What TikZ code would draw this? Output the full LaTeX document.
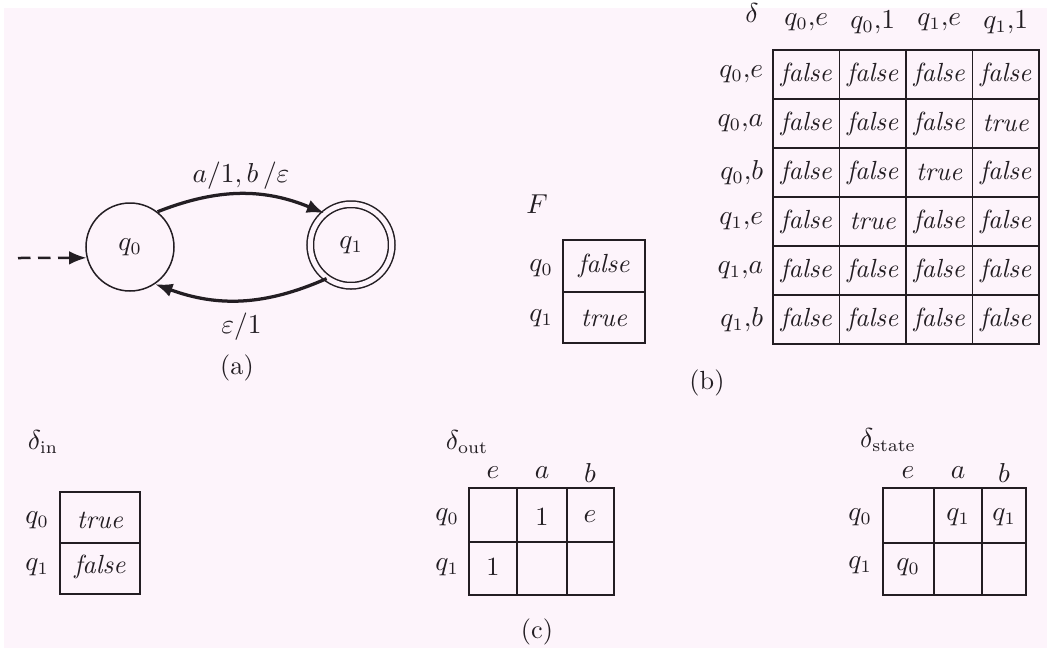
\documentclass[tikz,border=0pt]{standalone}
\usepackage{amsmath,amssymb}
\usetikzlibrary{arrows.meta,positioning,calc}
\definecolor{paper}{RGB}{253,244,251}
\definecolor{ink}{RGB}{35,30,35}
\newcommand{\tv}[1]{\textit{#1}}

\begin{document}
\begin{tikzpicture}[x=0.4pt,y=-0.4pt,font=\fontsize{10.5}{12}\selectfont,text=ink,
  state/.style={draw=ink,circle,line width=0.6pt,minimum size=35.2pt,inner sep=0pt},
  accept/.style={state,double=paper,double distance=2pt,minimum size=32.6pt},
  trans/.style={draw=ink,line width=1.3pt,-{Latex[length=7pt,width=5.5pt]}},
  tab/.style={draw=ink,line width=0.7pt}]
  \useasboundingbox[fill=white] (0,0) rectangle (1047,648);
  \fill[paper] (4,8) rectangle (1047,648);

  % (a) automaton
  \node[state] (q0) at (130,247) {$q_0$};
  \node[accept] (q1) at (351,245) {$q_1$};
  \coordinate (start) at (18,258);
  \draw[trans,dashed,dash pattern=on 5pt off 3pt,line width=1pt] (start) -- (q0.194);
  \draw[trans] (q0.52) to[bend left=22] node[above=-2pt] (lab-ab) {$a/1{,}\,b\,/\varepsilon$} (q1.130);
  \draw[trans] (q1.234) to[bend left=22] node[below=1pt] (lab-e) {$\varepsilon/1$} (q0.304);
  \node (cap-a) at (237,368) {(a)};

  % (b) F and delta
  \node (F) at (537,204) {$F$};
  \draw[tab] (563,240) rectangle (645,343) (563,292) -- (645,292);
  \node (F-q0) at (541,268) {$q_0$};
  \node (F-q1) at (541,318) {$q_1$};
  \node (F-0) at (604,266) {\tv{false}};
  \node (F-1) at (604,318) {\tv{true}};

  \node (d) at (752,13) {$\delta$};
  \draw[tab] (773,50) rectangle (1039,344);
  \foreach \x in {839.5,906,972.5} \draw[tab] (\x,50) -- (\x,344);
  \foreach \y in {99,148,197,246,295} \draw[tab] (773,\y) -- (1039,\y);
  \foreach \h [count=\c] in {{q_0{,}e},{q_0{,}1},{q_1{,}e},{q_1{,}1}}
    \node (dh-\c) at ({773+66.5*\c-33.25},22) {$\h$};
  \foreach \h [count=\r] in {{q_0{,}e},{q_0{,}a},{q_0{,}b},{q_1{,}e},{q_1{,}a},{q_1{,}b}}
    \node[anchor=east] (dr-\r) at (772,{25.5+49*\r}) {$\h$};
  \foreach \row [count=\r] in {{false,false,false,false},{false,false,false,true},
      {false,false,true,false},{false,true,false,false},
      {false,false,false,false},{false,false,false,false}}
    \foreach \v [count=\c] in \row
      \node (d-\r-\c) at ({773+66.5*\c-33.25},{25.5+49*\r}) {\tv{\v}};
  \node (cap-b) at (707,383) {(b)};

  % (c) delta_in
  \node (din) at (43,442) {$\delta_{\mathrm{in}}$};
  \draw[tab] (60,492) rectangle (140,594) (60,543) -- (140,543);
  \node (din-q0) at (37,520) {$q_0$};
  \node (din-q1) at (37,567) {$q_1$};
  \node (din-0) at (100,520) {\tv{true}};
  \node (din-1) at (100,567) {\tv{false}};

  % (c) delta_out
  \node (dout) at (467,442) {$\delta_{\mathrm{out}}$};
  \draw[tab] (469,488) rectangle (614,595) (469,542) -- (614,542);
  \draw[tab] (517,488) -- (517,595) (567,488) -- (567,595);
  \node (dout-e) at (493,473) {$e$};
  \node (dout-a) at (542,473) {$a$};
  \node (dout-b) at (590,473) {$b$};
  \node (dout-q0) at (447,517) {$q_0$};
  \node (dout-q1) at (447,567) {$q_1$};
  \node (dout-0a) at (542,517) {1};
  \node (dout-0b) at (590,517) {$e$};
  \node (dout-1e) at (493,567) {1};

  % (c) delta_state
  \node (dst) at (888,440) {$\delta_{\mathrm{state}}$};
  \draw[tab] (883,488) rectangle (1026,595) (883,543) -- (1026,543);
  \draw[tab] (934,488) -- (934,595) (982,488) -- (982,595);
  \node (dst-e) at (908,473) {$e$};
  \node (dst-a) at (958,473) {$a$};
  \node (dst-b) at (1004,473) {$b$};
  \node (dst-q0) at (860,517) {$q_0$};
  \node (dst-q1) at (860,565) {$q_1$};
  \node (dst-0a) at (958,517) {$q_1$};
  \node (dst-0b) at (1004,517) {$q_1$};
  \node (dst-1e) at (908,567) {$q_0$};
  \node (cap-c) at (537,632) {(c)};
\end{tikzpicture}
\end{document}
